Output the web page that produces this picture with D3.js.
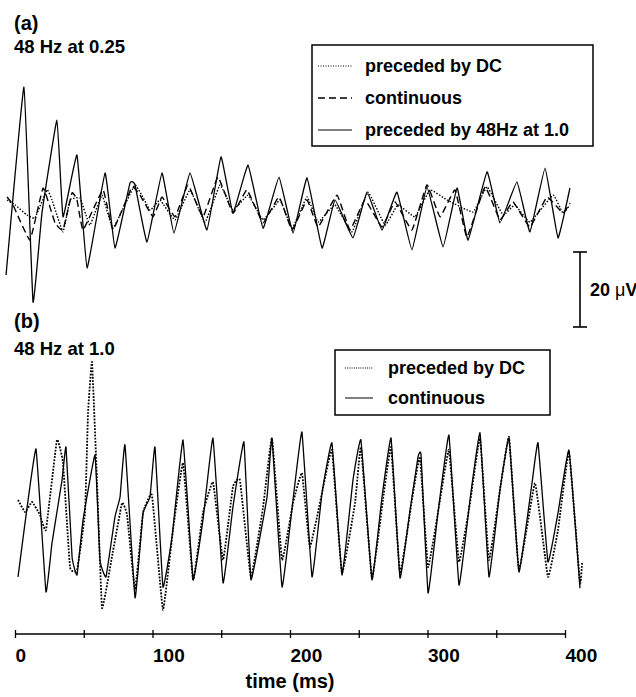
<!DOCTYPE html>
<html>
<head>
<meta charset="utf-8">
<script src="https://cdn.jsdelivr.net/npm/d3@7"></script>
<style>
  html, body { margin: 0; padding: 0; background: #fff; }
  svg { display: block; }
  text { font-family: "Liberation Sans", Arial, sans-serif; font-weight: bold; fill: #000; }
</style>
</head>
<body>
<div id="chart"></div>
<script>
// time in ms, amplitude in microvolts

// (a) 48 Hz at 0.25
const aDcT = [-5.8,0,8.7,14.5,23.3,26.9,34.9,40,47.3,54.5,63.3,71.3,87.3,98.2,105.5,116.4,127.3,138.2,149.1,158.5,169.5,180.4,192.7,201.5,212.4,220.4,232.7,245.1,256.7,269.1,278.5,290.9,301.8,314.2,333.1,343.3,354.9,363.6,374.5,391.3,398.5,403.6];
const aDcV = [0,-1.3,-4,-4.8,2.7,0,-8.5,0,0.5,-6.7,1.3,-7.5,4,-2.7,0,-5.3,2.7,-5.9,4,-2.7,1.3,-5.3,0,-7.5,0.8,-5.9,-1.3,-8.5,2.1,-6.7,-1.3,-4.5,2.7,0,-3.2,3.5,-4,-1.3,-5.9,1.3,-3.5,-1.3];

const aContT = [-5.8,-1.5,10.9,20.4,29.1,34.9,41.5,45.1,49.5,64,71.3,85.1,90.9,100.4,106.9,116.4,125.8,136.7,147.6,158.5,168.7,180.4,192,201.5,212.4,220.4,234.2,243.6,254.5,266.9,276.4,288.7,299.6,309.1,320,328.7,341.8,352.7,362.2,374.5,386.9,398.5,403.6];
const aContV = [0.8,-1.3,-10.7,3.2,-6.1,-8,1.9,0,-8,2.7,-8,3.5,1.3,-4.5,0.8,-4.5,4,-4.5,6.1,-3.5,2.7,-6.1,0.8,-8,0,-7.2,1.3,-8,0,-7.2,-0.5,-8,4,-4.5,2.7,-9.9,3.5,-5.3,-0.5,-7.2,0.8,-3.5,-0.8];

const a48T = [-6.5,6.5,13.1,19.6,30.5,34.9,45.1,52.4,65.5,72.7,83.6,87.3,96,106.9,115.6,127.3,139.6,149.8,158.5,169.5,180.4,192,202.2,212.4,223.3,232.7,245.8,256,266.9,277.8,288.7,299.6,311.3,321.5,329.5,343.3,352.7,365.1,374.5,385.5,394.9,403.6];
const a48V = [-20,30.1,-27.2,-3.5,21.3,-4.5,12,-18.1,7.2,-12.8,4.5,4,-11.2,7.2,-8.8,7.2,-8,11.5,-3.5,9.3,-7.5,6.1,-8.8,5.9,-12.8,0,-10.1,2.1,-8,2.1,-13.3,3.5,-12.5,3.2,-10.7,7.5,-6.1,4.8,-8.5,8.5,-10.1,3.2];

// (b) 48 Hz at 1.0
const bDcT = [2.2,7.3,12.4,18.2,22.5,30.5,34.9,40,45.1,50.9,53.1,56,59.6,63.3,70.5,77.8,81.5,87.3,93.1,99.6,107.6,114.9,122.2,129.5,136.7,144,151.3,158.5,163.6,171.6,180.4,186.9,194.2,202.2,208.7,214.5,223.3,230.5,237.8,247.3,251.6,259.6,267.6,273.5,280,288.7,294.5,300.4,309.1,315.6,322.9,330.9,338.2,344.7,352.7,359.3,366.5,378.2,387.6,394.9,402.9,410.9,412.4];
const bDcV = [4,0.8,3.5,0,-4,20,13.9,-13.9,-14.7,0.5,27.2,40.8,9.3,-24.8,-11.2,3.2,0,-20,0.5,5.3,-25.3,-4,13.9,-17.3,0.5,8.8,-12,7.5,9.3,-16.5,2.1,20.5,-12,3.2,11.2,-8.5,5.9,17.3,-15.5,3.2,18.1,-16.8,4,18.1,-15.5,4,15.5,-13.9,4,17.3,-12.5,3.2,20.5,-12,6.7,20.8,-14.7,8.5,-16.5,-4,16.8,-18.1,-12.8];

const bContT = [2.2,7.3,15.3,22.5,26.9,34.2,37.1,41.5,45.1,49.5,58.2,61.8,66.2,72.7,76.4,80,87.3,93.1,98.2,101.8,107.6,114.2,122.2,129.5,136.7,144,151.3,158.5,166.5,171.6,183.3,186.9,194.2,202.2,208.7,216,223.3,230.5,237.8,245.8,251.6,259.6,266.9,273.5,280,287.3,293.1,295.3,300.4,307.6,315.6,322.9,330.9,338.2,344.7,352.7,359.3,366.5,376,380.4,387.6,394.9,402.9,410.9];
const bContV = [-16.5,-2.1,17.6,-20.5,-7.5,9.3,18.1,-11.2,-16,-1.3,16,-12,-16.5,-0.5,4.8,18.7,-22.1,0.5,4.8,18.1,-19.2,-5.9,20,-17.3,-1.3,20.5,-18.1,2.1,19.5,-17.3,4.8,20.5,-19.2,4,22.1,-16.5,5.9,19.2,-16,9.3,20,-17.3,4.8,20.5,-16.8,1.3,15.5,16,-20.8,0.5,21.3,-18.7,4,21.9,-16.5,6.7,20.5,-15.2,8.5,19.2,-12.5,0.5,17.3,-19.5];

const tickVals = [0, 50, 100, 150, 200, 250, 300, 350, 400];

const W = 636, H = 697;
const svg = d3.select('#chart').append('svg').attr('width', W).attr('height', H);
svg.append('rect').attr('width', W).attr('height', H).attr('fill', '#fff');

const x = d3.scaleLinear().domain([0, 400]).range([15, 565]);
// 20 uV = 75 px
const ya = d3.scaleLinear().domain([-20, 20]).range([275, 125]);
const yb = d3.scaleLinear().domain([-20, 20]).range([590, 440]);

const zip = (t, v) => t.map((d, i) => [d, v[i]]);

function trace(yScale, t, v, style){
	// slight rounding only, the recorded peaks are fairly sharp
	const line = d3.line().curve(d3.curveCardinal.tension(0.72)).x(d => x(d[0])).y(d => yScale(d[1]));
	svg.append('path').datum(zip(t, v))
		.attr('d', line)
		.attr('fill', 'none')
		.attr('stroke', '#000')
		.attr('stroke-width', style.w)
		.attr('stroke-linejoin', 'round')
		.attr('stroke-dasharray', style.dash || null);
}

const sDotA = { w: 1.4, dash: '1.5,1.6' };
const sDash = { w: 1.4, dash: '7,4' };
const sSolid = { w: 1.3 };
const sDotB = { w: 1.8, dash: '1.8,1.4' };

// panel (a)
trace(ya, aDcT, aDcV, sDotA);
trace(ya, aContT, aContV, sDash);
trace(ya, a48T, a48V, sSolid);

// panel (b)
trace(yb, bDcT, bDcV, sDotB);
trace(yb, bContT, bContV, sSolid);

// labels
svg.append('text').attr('x', 14).attr('y', 30).attr('font-size', 20).text('(a)');
svg.append('text').attr('x', 14).attr('y', 53).attr('font-size', 18.5).text('48 Hz at 0.25');
svg.append('text').attr('x', 14).attr('y', 328).attr('font-size', 20).text('(b)');
svg.append('text').attr('x', 14).attr('y', 355).attr('font-size', 18.5).text('48 Hz at 1.0');

// legends
function legend(box, items){
	svg.append('rect').attr('x', box.x).attr('y', box.y).attr('width', box.w).attr('height', box.h)
		.attr('fill', '#fff').attr('stroke', '#000').attr('stroke-width', 1.5);
	items.forEach((it, i) => {
		const yy = box.y + box.first + i * box.step;
		svg.append('line').attr('x1', box.x + box.l1).attr('x2', box.x + box.l2)
			.attr('y1', yy).attr('y2', yy)
			.attr('stroke', '#000').attr('stroke-width', it.style.w)
			.attr('stroke-dasharray', it.style.dash || null);
		svg.append('text').attr('x', box.x + box.tx).attr('y', yy)
			.attr('dy', '0.35em').attr('font-size', 18).text(it.label);
	});
}
legend({ x: 312, y: 45, w: 281, h: 101, first: 21, step: 32, l1: 6, l2: 40, tx: 53 }, [
	{ label: 'preceded by DC', style: { w: 1, dash: '1,1.5' } },
	{ label: 'continuous', style: sDash },
	{ label: 'preceded by 48Hz at 1.0', style: { w: 1.2 } }
]);
legend({ x: 335, y: 350, w: 215, h: 65, first: 18, step: 30, l1: 10, l2: 38, tx: 53 }, [
	{ label: 'preceded by DC', style: { w: 1.2, dash: '1,1.2' } },
	{ label: 'continuous', style: { w: 1 } }
]);

// scale bar 20 uV
const sb = svg.append('g');
const sbTop = 252, sbBot = sbTop + (ya(-20) - ya(0));
sb.append('line').attr('x1', 580).attr('x2', 580).attr('y1', sbTop).attr('y2', sbBot)
	.attr('stroke', '#000').attr('stroke-width', 1.6);
[sbTop, sbBot].forEach(yy => {
	sb.append('line').attr('x1', 573).attr('x2', 587).attr('y1', yy).attr('y2', yy)
		.attr('stroke', '#000').attr('stroke-width', 1.6);
});
const sbt = sb.append('text').attr('x', 590).attr('y', 296).attr('font-size', 18);
sbt.append('tspan').text('20 ');
sbt.append('tspan').attr('font-weight', 'normal').text('\u03bc');
sbt.append('tspan').text('V');

// time axis
const ax = svg.append('g').attr('transform', 'translate(0,634)')
	.call(d3.axisBottom(x).tickValues(tickVals).tickSize(4).tickFormat(d => d % 100 === 0 ? d : ''));
ax.select('.domain').attr('stroke-width', 1.4).attr('d', `M${x(0)},0H${x(400)}`);
ax.selectAll('.tick line').attr('y1', -4).attr('y2', 4).attr('stroke-width', 1.3);
ax.selectAll('.tick text').attr('text-anchor', 'start').attr('y', 28).attr('dy', 0)
	.attr('font-size', 19).attr('font-family', '"Liberation Sans", Arial, sans-serif').attr('font-weight', 'bold');
svg.append('text').attr('x', 290).attr('y', 688).attr('text-anchor', 'middle').attr('font-size', 20).text('time (ms)');
</script>
</body>
</html>
